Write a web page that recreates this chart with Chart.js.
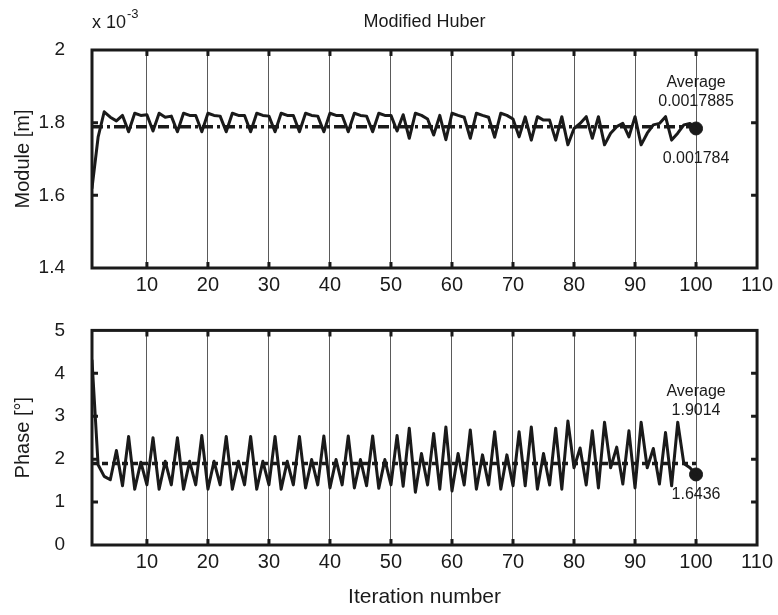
<!DOCTYPE html>
<html>
<head>
<meta charset="utf-8">
<script src="https://cdn.jsdelivr.net/npm/chart.js@4.4.0/dist/chart.umd.min.js"></script>
<style>
  body { margin: 0; background: #fff; }
  canvas { position: absolute; left: 0; }
  #moduleChart { top: 0; }
  #phaseChart { top: 300px; }
</style>
</head>
<body>
<canvas id="moduleChart" width="778" height="300"></canvas>
<canvas id="phaseChart" width="778" height="315"></canvas>
<script>
// iteration index 1..100
const iterations = Array.from({ length: 100 }, (_, i) => i + 1);

// module, in units of 10^-3 m
const moduleValues = [
  1.62, 1.76, 1.83, 1.815, 1.805, 1.82, 1.775, 1.826, 1.82, 1.822,
  1.777, 1.826, 1.815, 1.818, 1.775, 1.826, 1.82, 1.82, 1.775, 1.826,
  1.82, 1.818, 1.775, 1.826, 1.82, 1.82, 1.775, 1.826, 1.82, 1.818,
  1.775, 1.826, 1.82, 1.82, 1.775, 1.826, 1.82, 1.818, 1.775, 1.826,
  1.82, 1.82, 1.775, 1.826, 1.82, 1.818, 1.775, 1.826, 1.82, 1.82,
  1.777, 1.822, 1.757, 1.826, 1.82, 1.81, 1.766, 1.82, 1.753, 1.826,
  1.82, 1.815, 1.757, 1.826, 1.82, 1.815, 1.76, 1.826, 1.82, 1.81,
  1.761, 1.816, 1.752, 1.8165, 1.807, 1.807, 1.752, 1.8165, 1.739, 1.784,
  1.798, 1.8165, 1.757, 1.8165, 1.739, 1.771, 1.789, 1.798, 1.761, 1.8165,
  1.739, 1.771, 1.794, 1.798, 1.8165, 1.752, 1.771, 1.794, 1.798, 1.784
];

// phase, degrees
const phaseValues = [
  4.3, 1.87, 1.6, 1.52, 2.2, 1.38, 2.53, 1.3, 1.93, 1.4,
  2.5, 1.3, 1.95, 1.4, 2.5, 1.3, 1.95, 1.4, 2.55, 1.3,
  1.95, 1.4, 2.53, 1.3, 1.95, 1.4, 2.53, 1.3, 1.95, 1.4,
  2.53, 1.3, 1.95, 1.4, 2.53, 1.33, 1.99, 1.4, 2.54, 1.33,
  1.99, 1.4, 2.54, 1.33, 1.99, 1.38, 2.54, 1.32, 1.99, 1.4,
  2.55, 1.37, 2.72, 1.23, 2.13, 1.4, 2.6, 1.3, 2.75, 1.26,
  2.13, 1.4, 2.68, 1.3, 2.1, 1.4, 2.64, 1.3, 2.1, 1.38,
  2.64, 1.38, 2.75, 1.3, 2.13, 1.4, 2.72, 1.3, 2.89, 1.8,
  2.26, 1.4, 2.66, 1.33, 2.86, 1.8, 2.28, 1.42, 2.66, 1.33,
  2.86, 1.8, 2.25, 1.42, 2.62, 1.38, 2.86, 1.9, 1.8, 1.6436
];

const moduleAverage = 1.7885;
const phaseAverage = 1.9014;
const moduleAverageText = '0.0017885';
const moduleFinalText = '0.001784';
const phaseAverageText = '1.9014';
const phaseFinalText = '1.6436';

const xTicks = [10, 20, 30, 40, 50, 60, 70, 80, 90, 100, 110];
const moduleTicks = [1.4, 1.6, 1.8, 2];
const phaseTicks = [0, 1, 2, 3, 4, 5];

const FONT = '"Liberation Sans", Arial, Helvetica, sans-serif';
const INK = '#1a1a1a';

const framePlugin = {
  id: 'frame',
  afterDraw(chart) {
    const { ctx, chartArea: a, scales } = chart;
    ctx.save();
    ctx.strokeStyle = INK;
    ctx.lineWidth = 3;
    ctx.beginPath();
    scales.x.ticks.forEach(t => {
      const px = scales.x.getPixelForValue(t.value);
      if (px >= a.right - 1) return;
      ctx.moveTo(px, a.top); ctx.lineTo(px, a.top + 6);
      ctx.moveTo(px, a.bottom); ctx.lineTo(px, a.bottom - 6);
    });
    scales.y.ticks.forEach(t => {
      const py = scales.y.getPixelForValue(t.value);
      if (py <= a.top + 1 || py >= a.bottom - 1) return;
      ctx.moveTo(a.left, py); ctx.lineTo(a.left + 6, py);
      ctx.moveTo(a.right, py); ctx.lineTo(a.right - 6, py);
    });
    ctx.stroke();
    ctx.strokeRect(a.left, a.top, a.right - a.left, a.bottom - a.top);
    ctx.restore();
  }
};

const notesPlugin = {
  id: 'notes',
  afterDraw(chart, args, opts) {
    const { ctx, scales, chartArea } = chart;
    const px = scales.x.getPixelForValue(100);
    ctx.save();
    ctx.fillStyle = INK;
    ctx.textAlign = 'center';
    ctx.textBaseline = 'middle';
    ctx.font = '16px ' + FONT;
    opts.items.forEach(it => {
      ctx.fillText(it.text, px, scales.y.getPixelForValue(it.value) + it.dy);
    });
    if (opts.exponent) {
      ctx.textAlign = 'left';
      ctx.font = '18px ' + FONT;
      ctx.fillText('x 10', chartArea.left, 23);
      const w = ctx.measureText('x 10').width;
      ctx.font = '13px ' + FONT;
      ctx.fillText('-3', chartArea.left + w + 1, 14);
    }
    ctx.restore();
  }
};

function makeChart(id, values, average, dash, yTicks, yMin, yMax, yTitle, extra) {
  const ctx = document.getElementById(id).getContext('2d');
  return new Chart(ctx, {
    type: 'line',
    data: {
      datasets: [
        {
          data: values.map((v, i) => ({ x: iterations[i], y: v })),
          borderColor: INK,
          borderWidth: 3,
          borderJoinStyle: 'round',
          borderCapStyle: 'round',
          pointRadius: 0,
          tension: 0
        },
        {
          data: [{ x: iterations[0], y: average }, { x: iterations[iterations.length - 1], y: average }],
          borderColor: INK,
          borderWidth: 3.5,
          borderDash: dash,
          pointRadius: 0
        },
        {
          data: [{ x: iterations[iterations.length - 1], y: values[values.length - 1] }],
          showLine: false,
          pointRadius: 6.5,
          pointBackgroundColor: INK,
          pointBorderColor: INK
        }
      ]
    },
    options: {
      responsive: false,
      animation: false,
      events: [],
      layout: { padding: { left: 0, right: 20, top: extra.padTop, bottom: 0 } },
      plugins: {
        legend: { display: false },
        tooltip: { enabled: false },
        title: extra.title,
        notes: extra.notes
      },
      scales: {
        x: {
          type: 'linear',
          min: 1,
          max: 110,
          afterBuildTicks: s => { s.ticks = xTicks.map(v => ({ value: v })); },
          afterFit: s => { s.height = extra.xHeight; },
          grid: { display: true, drawTicks: false, color: '#5a5a5a', lineWidth: 1 },
          border: { display: false },
          ticks: { color: INK, padding: 5, font: { family: FONT, size: 20 } },
          title: extra.xTitle
        },
        y: {
          min: yMin,
          max: yMax,
          afterBuildTicks: s => { s.ticks = yTicks.map(v => ({ value: v })); },
          afterFit: s => { s.width = 92; },
          grid: { display: false },
          border: { display: false },
          ticks: { color: INK, padding: 19, font: { family: FONT, size: 19 }, callback: v => String(v) },
          title: { display: true, text: yTitle, color: INK, padding: { top: 11, bottom: 0 }, font: { family: FONT, size: 20 } }
        }
      }
    },
    plugins: [framePlugin, notesPlugin]
  });
}

makeChart('moduleChart', moduleValues, moduleAverage, [11, 4, 3, 4], moduleTicks, 1.4, 2, 'Module [m]', {
  padTop: 0,
  xHeight: 32,
  title: {
    display: true, text: 'Modified Huber', color: INK, fullSize: false,
    font: { family: FONT, size: 18, weight: 'normal' },
    padding: { top: 11, bottom: 17.4 }
  },
  xTitle: { display: false },
  notes: {
    exponent: true,
    items: [
      { text: 'Average', value: moduleAverage, dy: -44 },
      { text: moduleAverageText, value: moduleAverage, dy: -25 },
      { text: moduleFinalText, value: moduleValues[moduleValues.length - 1], dy: 30 }
    ]
  }
});

makeChart('phaseChart', phaseValues, phaseAverage, [6, 4], phaseTicks, 0, 5, 'Phase [\u00b0]', {
  padTop: 26,
  xHeight: 70,
  title: { display: false },
  xTitle: {
    display: true, text: 'Iteration number', color: INK,
    font: { family: FONT, size: 21 },
    padding: { top: 0, bottom: 5 }
  },
  notes: {
    exponent: false,
    items: [
      { text: 'Average', value: phaseAverage, dy: -72 },
      { text: phaseAverageText, value: phaseAverage, dy: -53 },
      { text: phaseFinalText, value: phaseValues[phaseValues.length - 1], dy: 20 }
    ]
  }
});
</script>
</body>
</html>
